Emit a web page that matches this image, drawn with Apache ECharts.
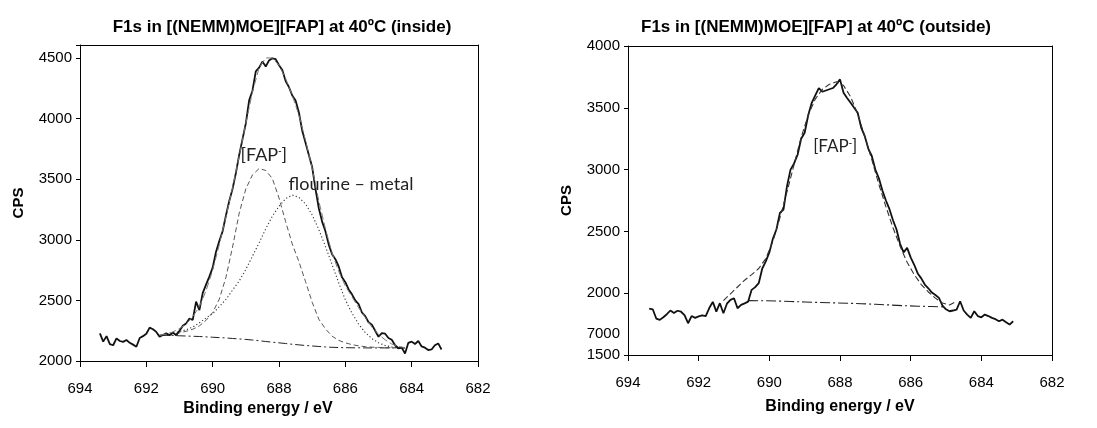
<!DOCTYPE html>
<html>
<head>
<meta charset="utf-8">
<script src="https://cdn.jsdelivr.net/npm/echarts@6/dist/echarts.min.js"></script>
<style>
html, body { margin: 0; padding: 0; background: #fff; }
#chart { width: 1097px; height: 428px; }
</style>
</head>
<body>
<div id="chart"></div>
<script>
// measured spectra, 693.4 -> 683.1 eV in 0.1 eV steps
var measStart = 693.4, measStep = 0.1;
var insideCps = [
    2228, 2160, 2205, 2140, 2130, 2187, 2165, 2158, 2173, 2150,
    2135, 2118, 2190, 2205, 2225, 2275, 2262, 2240, 2200, 2215,
    2228, 2212, 2234, 2212, 2250, 2290, 2310, 2350, 2340, 2490,
    2420, 2560, 2630, 2696, 2770, 2900, 2990, 3070, 3200, 3320,
    3420, 3550, 3700, 3830, 3960, 4150, 4230, 4390, 4420, 4470,
    4430, 4480, 4497, 4490, 4440, 4400, 4310, 4260, 4190, 4150,
    4050, 3900, 3800, 3700, 3600, 3420, 3260, 3150, 3070, 2960,
    2880, 2840, 2780, 2690, 2650, 2590, 2550, 2500, 2470, 2400,
    2370, 2320, 2300, 2250, 2200, 2230, 2225, 2190, 2175, 2130,
    2105, 2110, 2062, 2150, 2160, 2140, 2165, 2120, 2110, 2090,
    2095, 2130, 2145, 2095
];
var outsideCps = [
    1876, 1870, 1795, 1784, 1805, 1830, 1860, 1840, 1858, 1850,
    1822, 1757, 1815, 1800, 1812, 1820, 1815, 1880, 1930, 1851,
    1919, 1838, 1915, 1946, 1959, 1878, 1905, 1918, 1932, 2027,
    2049, 2081, 2200, 2257, 2330, 2440, 2515, 2650, 2677, 2866,
    3000, 3050, 3120, 3250, 3298, 3440, 3540, 3600, 3660, 3630,
    3640, 3650, 3660, 3690, 3730, 3622, 3580, 3541, 3500, 3460,
    3340, 3271, 3170, 3110, 3000, 2930, 2830, 2750, 2680, 2590,
    2515, 2400, 2330, 2367, 2290, 2230, 2160, 2120, 2070, 2040,
    2005, 1985, 1962, 1900, 1870, 1854, 1860, 1867, 1935, 1860,
    1827, 1800, 1854, 1815, 1805, 1827, 1815, 1800, 1790, 1773,
    1786, 1765, 1746, 1773
];

// inside fit, 691.6 -> 684.2 eV in 0.2 eV steps
var fitStart = 691.6, fitStep = 0.2;
var insideEnvelope = [
    2212, 2222, 2240, 2268, 2305, 2365, 2450, 2580, 2750, 2960,
    3190, 3430, 3690, 3960, 4220, 4420, 4500, 4500, 4440, 4330,
    4190, 4030, 3820, 3590, 3320, 3090, 2890, 2740, 2620, 2530,
    2440, 2360, 2280, 2220, 2175, 2140, 2120, 2110
];
var insideFap = [
    2212, 2215, 2222, 2232, 2245, 2262, 2290, 2335, 2400, 2510,
    2690, 2940, 3220, 3420, 3535, 3588, 3572, 3505, 3345, 3150,
    2965, 2820, 2655, 2485, 2345, 2265, 2205, 2170, 2150, 2135,
    2125, 2118, 2114, 2112, 2110, 2109, 2108, 2108
];
var insideMetal = [
    2212, 2218, 2228, 2243, 2258, 2280, 2315, 2355, 2391, 2448,
    2508, 2585, 2660, 2755, 2865, 2975, 3090, 3195, 3275, 3340,
    3369, 3350, 3295, 3205, 3085, 2945, 2795, 2645, 2505, 2395,
    2305, 2235, 2185, 2150, 2128, 2116, 2110, 2108
];
var insideBackground = [
    2212, 2211, 2210, 2208, 2206, 2204, 2202, 2199, 2196, 2193,
    2190, 2186, 2182, 2178, 2173, 2167, 2161, 2155, 2150, 2144,
    2138, 2133, 2128, 2124, 2120, 2116, 2113, 2111, 2110, 2109,
    2109, 2108, 2108, 2108, 2108, 2108, 2108, 2108
];

// outside fit, 691.3 -> 684.7 eV in 0.2 eV steps
var outFitStart = 691.3;
var outsideEnvelope = [
    1940, 1995, 2050, 2105, 2150, 2200, 2280, 2420, 2610, 2820,
    3040, 3260, 3440, 3570, 3650, 3690, 3710, 3680, 3590, 3450,
    3270, 3080, 2880, 2700, 2530, 2380, 2250, 2150, 2070, 2010,
    1960, 1920, 1905, 1935
];
// outside background, 690.6 -> 685.0 eV in 0.4 eV steps
var outBgStart = 690.6, outBgStep = 0.4;
var outsideBackground = [
    1940, 1939, 1937, 1933, 1929, 1925, 1922, 1919, 1915, 1910,
    1905, 1899, 1895, 1892, 1889
];

var yTicksInside = { min: 2000, max: 4607, interval: 500 };
var yTicksOutside = { min: 1500, max: 4000, interval: 500 };
var xTicks = { min: 682, max: 694, interval: 2 };

function pairs(start, step, vals) {
    return vals.map(function (v, i) {
        return [+(start - i * step).toFixed(2), v];
    });
}

var myChart = echarts.init(document.getElementById('chart'));
var axisFont = 'Liberation Sans, Arial, sans-serif';

function xAxisOpt(idx, padRight, gap) {
    return {
        gridIndex: idx,
        type: 'value',
        inverse: true,
        min: xTicks.min, max: xTicks.max, interval: xTicks.interval,
        name: 'Binding energy / eV',
        nameLocation: 'middle',
        nameGap: gap,
        nameTextStyle: { fontFamily: axisFont, fontWeight: 'bold', fontSize: 16, color: '#000', padding: [0, padRight, 0, 0] },
        axisLine: { onZero: false, lineStyle: { color: '#000', width: 1 } },
        axisTick: { length: 6, lineStyle: { color: '#000' } },
        axisLabel: { margin: 20, fontFamily: axisFont, fontSize: 15, color: '#000' },
        splitLine: { show: false }
    };
}

function yAxisOpt(idx, ticks) {
    return {
        gridIndex: idx,
        type: 'value',
        min: ticks.min, max: ticks.max, interval: ticks.interval,
        name: 'CPS',
        nameLocation: 'middle',
        nameGap: 54,
        nameRotate: 90,
        nameTextStyle: { fontFamily: axisFont, fontWeight: 'bold', fontSize: 15, color: '#000' },
        axisLine: { onZero: false, lineStyle: { color: '#000', width: 1 } },
        axisTick: { length: 4, lineStyle: { color: '#000' } },
        axisLabel: {
            margin: 8, fontFamily: axisFont, fontSize: 15, color: '#000',
            formatter: function (v) { return v % 500 === 0 ? String(v) : ''; }
        },
        splitLine: { show: false }
    };
}

// plain frame lines on the top and right of each plot
function frameAxis(idx, pos, ticks) {
    return {
        gridIndex: idx,
        type: 'value',
        position: pos,
        min: ticks.min, max: ticks.max,
        axisLine: { show: true, onZero: false, lineStyle: { color: '#000', width: 1 } },
        axisTick: { show: false },
        axisLabel: { show: false },
        splitLine: { show: false }
    };
}

function lineSeries(gi, data, color, width, type, z) {
    return {
        type: 'line',
        xAxisIndex: gi, yAxisIndex: gi,
        data: data,
        showSymbol: false,
        symbol: 'none',
        silent: true,
        z: z,
        lineStyle: { color: color, width: width, type: type }
    };
}

option = {
    animation: false,
    backgroundColor: '#fff',
    title: [
        {
            text: 'F1s in [(NEMM)MOE][FAP] at 40ºC (inside)',
            left: 277, top: 14, textAlign: 'center',
            textStyle: { fontFamily: axisFont, fontWeight: 'bold', fontSize: 17, color: '#000' }
        },
        {
            text: 'F1s in [(NEMM)MOE][FAP] at 40ºC (outside)',
            left: 811, top: 14, textAlign: 'center',
            textStyle: { fontFamily: axisFont, fontWeight: 'bold', fontSize: 17, color: '#000' }
        }
    ],
    grid: [
        { left: 80, top: 45, width: 398, height: 316 },
        { left: 628, top: 46, width: 424, height: 309 }
    ],
    xAxis: [
        xAxisOpt(0, 42, 39), xAxisOpt(1, 0, 44),
        frameAxis(0, 'top', xTicks), frameAxis(1, 'top', xTicks)
    ],
    yAxis: [
        yAxisOpt(0, yTicksInside), yAxisOpt(1, yTicksOutside),
        frameAxis(0, 'right', yTicksInside), frameAxis(1, 'right', yTicksOutside)
    ],
    series: [
        lineSeries(0, pairs(fitStart, fitStep, insideBackground), '#222', 1, [9, 3, 2, 3], 2),
        lineSeries(0, pairs(fitStart, fitStep, insideMetal), '#333', 1.1, [1.2, 2.3], 2),
        lineSeries(0, pairs(fitStart, fitStep, insideFap), '#444', 0.9, [5, 3], 2),
        lineSeries(0, pairs(measStart, measStep, insideCps), '#111', 1.8, 'solid', 3),
        lineSeries(0, pairs(fitStart, fitStep, insideEnvelope), '#777', 1, [7, 3], 4),
        lineSeries(1, pairs(outBgStart, outBgStep, outsideBackground), '#222', 1.1, [10, 3, 2, 3], 2),
        lineSeries(1, pairs(measStart, measStep, outsideCps), '#111', 1.8, 'solid', 3),
        lineSeries(1, pairs(outFitStart, fitStep, outsideEnvelope), '#333', 1.1, [6, 3], 4)
    ]
};
myChart.setOption(option);

// annotations placed in data coordinates
var labelFont = 'Lato, "Open Sans", sans-serif';
var supRich = { sup: { fontSize: 10, verticalAlign: 'top', padding: [0, 0, 7, 0] } };
var fapInside = myChart.convertToPixel({ gridIndex: 0 }, [689.16, 3700]);
var metalInside = myChart.convertToPixel({ gridIndex: 0 }, [687.71, 3460]);
var fapOutside = myChart.convertToPixel({ gridIndex: 1 }, [688.76, 3187]);
var oddTick = myChart.convertToPixel({ gridIndex: 1 }, [694, 1675]);
myChart.setOption({
    graphic: [
        { type: 'text', x: fapInside[0], y: fapInside[1], style: { text: '[FAP{sup|-}]', rich: supRich, font: '18px ' + labelFont, fill: '#222', textVerticalAlign: 'middle' } },
        { type: 'text', x: metalInside[0], y: metalInside[1], style: { text: 'flourine – metal', font: '18px ' + labelFont, fill: '#222', textVerticalAlign: 'middle' } },
        { type: 'text', x: fapOutside[0], y: fapOutside[1], style: { text: '[FAP{sup|-}]', rich: supRich, font: '17px ' + labelFont, fill: '#222', textVerticalAlign: 'middle' } },
        { type: 'text', x: oddTick[0] - 8, y: oddTick[1], style: { text: '7000', font: '15px ' + axisFont, fill: '#000', textAlign: 'right', textVerticalAlign: 'middle' } }
    ]
});
</script>
</body>
</html>
